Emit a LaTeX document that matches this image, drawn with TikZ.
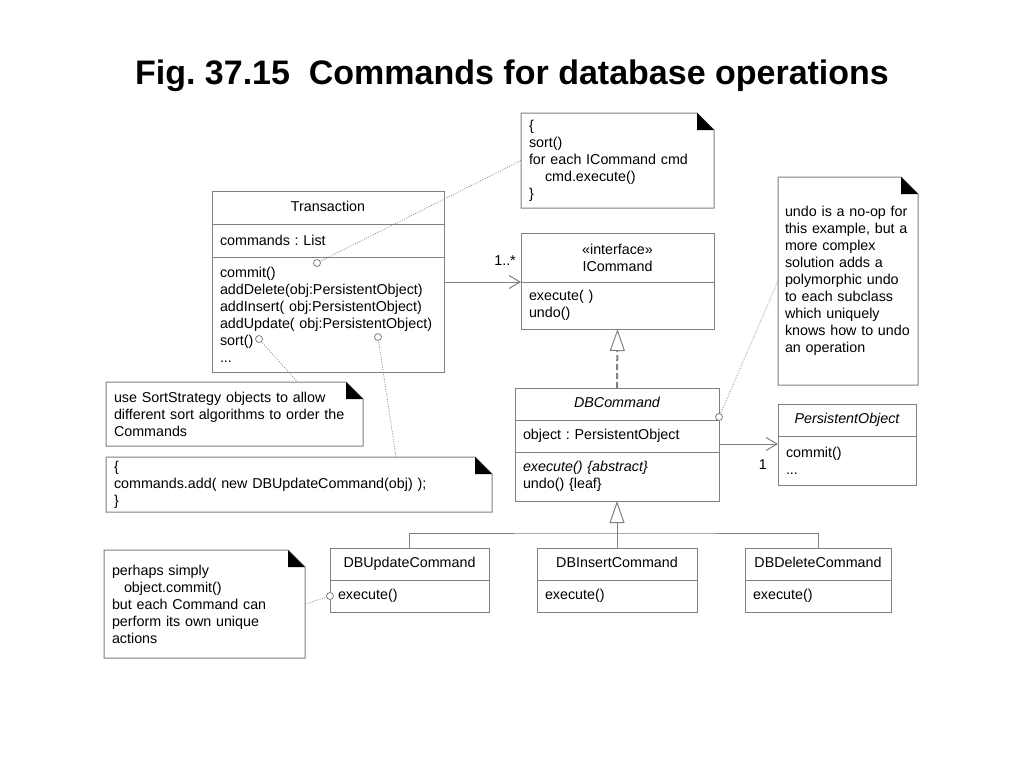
\documentclass[tikz,border=0pt]{standalone}
\usepackage{fontspec}
\setmainfont{Liberation Sans}
\usetikzlibrary{positioning,arrows.meta}
\definecolor{linegray}{HTML}{808080}

\begin{document}
\begin{tikzpicture}[x=1pt, y=-1pt,
    font=\fontsize{14.3pt}{17pt}\selectfont\frenchspacing,
    boxline/.style={draw=linegray, line width=1pt, outer sep=0pt},
    classname/.style={boxline, inner sep=0pt, minimum height=32pt, align=center,
        text height=10.5pt, text depth=3.2pt},
    members/.style={boxline, inner xsep=8pt, inner ysep=0pt, align=left},
    note/.style={anchor=north west, inner xsep=8pt, inner ysep=0pt, outer sep=0pt, align=left},
    assoc/.style={draw=linegray, line width=1pt, -{Straight Barb[length=11pt, width=13pt]}},
    generalize/.style={draw=linegray, line width=1pt, -{Triangle[open, length=22pt, width=15pt]}},
    realize/.style={draw=linegray, line width=2pt, dash pattern=on 6pt off 3pt,
        -{Triangle[open, length=22pt, width=15pt, line width=1pt]}},
    noteline/.style={draw=linegray, line width=0.7pt, dash pattern=on 1pt off 1.5pt}]

    % 1. Page and title
    \fill[white] (0,0) rectangle (1024,768);
    \node[anchor=base, font=\bfseries\fontsize{34pt}{40pt}\selectfont\frenchspacing] (title) at (512,84)
        {Fig. 37.15\ \ Commands for database operations};

    % 2. Transaction
    \node[classname, anchor=north west, minimum width=232pt, minimum height=33pt] (tr) at (212,191) {Transaction};
    \node[members, below=0pt of tr, text width=216pt, minimum height=33pt] (tr-attr) {commands : List};
    \node[members, below=0pt of tr-attr, text width=216pt, minimum height=115pt] (tr-ops)
        {commit()\\addDelete(obj:PersistentObject)\\addInsert( obj:PersistentObject)\\
         addUpdate( obj:PersistentObject)\\sort()\\...};

    % 3. ICommand
    \node[boxline, inner sep=0pt, align=center, anchor=north west, minimum width=193pt, minimum height=49pt]
        (ic) at (521,233) {«interface»\\ICommand};
    \node[members, below=0pt of ic, text width=177pt, minimum height=47pt] (ic-ops) {execute( )\\undo()};

    % 4. DBCommand
    \node[classname, anchor=north west, minimum width=204pt] (dbc) at (515,388) {\itshape DBCommand};
    \node[members, below=0pt of dbc, text width=188pt, minimum height=32pt] (dbc-attr) {object : PersistentObject};
    \node[members, below=0pt of dbc-attr, text width=188pt, minimum height=49pt] (dbc-ops)
        {\textit{execute() \{abstract\}}\\undo() \{leaf\}};

    % 5. PersistentObject
    \node[classname, anchor=north west, minimum width=138pt] (po) at (778,404) {\itshape PersistentObject};
    \node[members, below=0pt of po, text width=122pt, minimum height=49pt] (po-ops) {commit()\\...};

    % 6. Subclasses
    \node[classname, anchor=north west, minimum width=159pt] (upd) at (330,548) {DBUpdateCommand};
    \node[members, below=0pt of upd, text width=143pt, minimum height=32pt] (upd-ops) {execute()};
    \node[classname, anchor=north west, minimum width=160pt] (ins) at (537,548) {DBInsertCommand};
    \node[members, below=0pt of ins, text width=144pt, minimum height=32pt] (ins-ops) {execute()};
    \node[classname, anchor=north west, minimum width=146pt] (del) at (745,548) {DBDeleteCommand};
    \node[members, below=0pt of del, text width=130pt, minimum height=32pt] (del-ops) {execute()};

    % 7. Notes
    \node[note, text width=177pt, minimum height=95pt] (sortnote) at (521,113)
        {\{\\sort()\\for each ICommand cmd\\\hspace*{16pt}cmd.execute()\\\}};
    \node[note, inner xsep=7pt, text width=126pt, minimum height=208pt] (undonote) at (778,177)
        {undo is a no-op for\\this example, but a\\more complex\\solution adds a\\polymorphic undo\\
         to each subclass\\which uniquely\\knows how to undo\\an operation};
    \node[note, text width=241pt, minimum height=64pt] (stratnote) at (106,382)
        {use SortStrategy objects to allow\\different sort algorithms to order the\\Commands};
    \node[note, text width=370pt, minimum height=55pt] (addnote) at (106,457)
        {\{\\commands.add( new DBUpdateCommand(obj) );\\\}};
    \node[note, text width=185pt, minimum height=108pt] (perhapsnote) at (104,550)
        {perhaps simply\\\hspace*{12pt}object.commit()\\but each Command can\\perform its own unique\\actions};

    % dog-eared outlines
    \foreach \n in {sortnote,undonote,stratnote,addnote,perhapsnote} {
        \draw[linegray, line width=1pt] (\n.north west) -- ([xshift=-17pt]\n.north east)
            -- ([yshift=-17pt]\n.north east) -- (\n.south east) -- (\n.south west) -- cycle;
        \fill[black] ([xshift=-17pt]\n.north east) -- ([xshift=-17pt,yshift=-17pt]\n.north east)
            -- ([yshift=-17pt]\n.north east) -- cycle;
    }

    % 8. Associations
    \draw[assoc] (tr-ops.east |- ic-ops.north) -- (ic-ops.north west);
    \node[anchor=base east, inner sep=0pt] (mult-ic) at ([xshift=-5pt,yshift=17pt]ic-ops.north west) {1..*};

    \coordinate (po-in) at ([yshift=-8pt]po.south west);
    \draw[assoc] (dbc-attr.east |- po-in) -- (po-in);
    \node[anchor=base east, inner sep=0pt] (mult-po) at ([xshift=-11pt,yshift=-25pt]po-in) {1};

    % 9. Realization and generalization
    \draw[realize] (dbc.north) -- (ic-ops.south);
    \draw[generalize] (ins.north) -- (dbc-ops.south);
    \coordinate (bus) at ([yshift=15pt]ins.north);
    \draw[linegray, line width=1pt] (upd.north) |- (bus) -| (del.north);

    % 10. Note anchors
    \coordinate (c-cmds) at ([xshift=105pt,yshift=-6pt]tr-ops.north west);
    \coordinate (c-sort) at ([xshift=47pt,yshift=-82pt]tr-ops.north west);
    \coordinate (c-upd) at ([xshift=166pt,yshift=-80pt]tr-ops.north west);
    \coordinate (c-undo) at ([yshift=3pt]dbc.south east);
    \coordinate (c-exec) at (upd-ops.west);

    \draw[noteline] (c-cmds) -- (sortnote.west);
    \draw[noteline] (c-sort) -- ([xshift=63pt]stratnote.north);
    \draw[noteline] (c-upd) -- ([xshift=97pt]addnote.north);
    \draw[noteline] (c-undo) -- (undonote.west);
    \draw[noteline] (c-exec) -- (perhapsnote.east);

    \foreach \c in {c-cmds,c-sort,c-upd,c-undo,c-exec}
        \draw[linegray, line width=0.8pt, fill=white] (\c) circle (3.5pt);

\end{tikzpicture}
\end{document}
